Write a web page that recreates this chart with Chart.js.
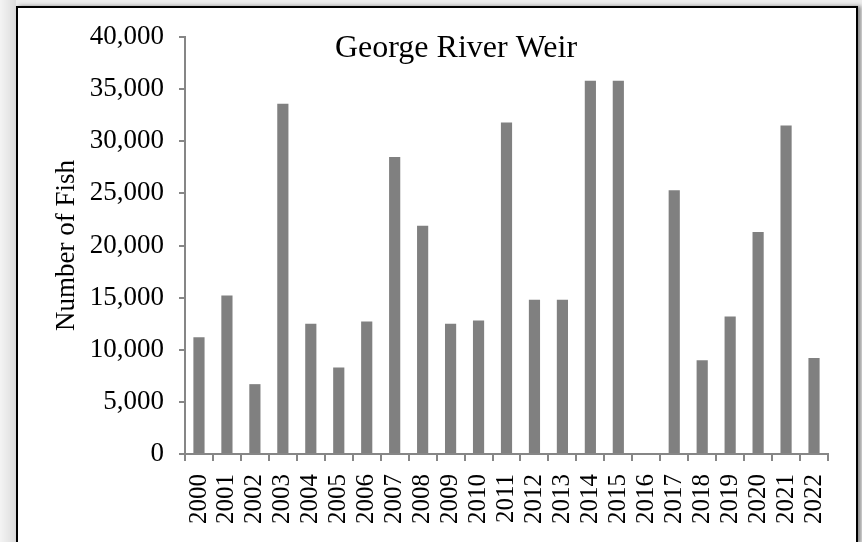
<!DOCTYPE html>
<html>
<head>
<meta charset="utf-8">
<script src="https://cdn.jsdelivr.net/npm/chart.js@4"></script>
<style>
  html, body { margin: 0; padding: 0; }
  body {
    width: 862px; height: 542px; overflow: hidden; position: relative;
    background: linear-gradient(to right, #f4f4f4 0px, #dcdcdc 16px, #ececec 16px);
  }
  #frame {
    position: absolute; left: 16px; top: 6px; width: 838px; height: 534px;
    background: #fff; border: 2px solid #000;
    box-shadow: 3px 0 4px #8a8a8a;
  }
  #wrap { position: absolute; left: 0; top: 0; width: 862px; height: 542px; }
</style>
</head>
<body>
<div id="frame"></div>
<div id="wrap"><canvas id="weirChart" width="862" height="542"></canvas></div>
<script>
const years = ["2000", "2001", "2002", "2003", "2004", "2005", "2006", "2007", "2008", "2009", "2010", "2011",
               "2012", "2013", "2014", "2015", "2016", "2017", "2018", "2019", "2020", "2021", "2022"];
const fishCount = [11200, 15200, 6700, 33600, 12500, 8300, 12700, 28500, 21900, 12500, 12800, 31800,
                   14800, 14800, 35800, 35800, null, 25300, 9000, 13200, 21300, 31500, 9200];
const chartTitle = "George River Weir";
const yTitle = "Number of Fish";

const serif = "'Liberation Serif', 'Times New Roman', serif";
const axisGray = "#868686";

// title sits inside the plot area, so draw it ourselves
const innerTitle = {
    id: "innerTitle",
    afterDraw(chart) {
        const ctx = chart.ctx;
        ctx.save();
        ctx.font = "32px " + serif;
        ctx.fillStyle = "#000";
        ctx.textAlign = "center";
        ctx.textBaseline = "alphabetic";
        ctx.fillText(chartTitle, 456, 57);
        ctx.restore();
    }
};

new Chart("weirChart", {
    type: "bar",
    data: {
        labels: years,
        datasets: [{
            data: fishCount,
            backgroundColor: "#808080",
            borderWidth: 0,
            barPercentage: 0.4,
            categoryPercentage: 1.0
        }]
    },
    options: {
        responsive: false,
        animation: false,
        layout: {padding: {left: 40, top: 37, right: 34, bottom: 0}},
        plugins: {
            legend: {display: false},
            title: {display: false},
            tooltip: {enabled: false}
        },
        scales: {
            x: {
                grid: {display: true, drawOnChartArea: false, drawTicks: true, tickLength: 7, color: axisGray, lineWidth: 2},
                border: {display: true, color: axisGray, width: 2},
                ticks: {
                    color: "#000",
                    font: {family: serif, size: 25},
                    minRotation: 90,
                    maxRotation: 90,
                    autoSkip: false,
                    padding: 13
                },
                afterFit: (scale) => { scale.height = 88; }
            },
            y: {
                min: 0,
                max: 40000,
                grid: {display: true, drawOnChartArea: false, drawTicks: true, tickLength: 6, color: axisGray, lineWidth: 2},
                border: {display: true, color: axisGray, width: 2},
                ticks: {
                    stepSize: 5000,
                    color: "#000",
                    font: {family: serif, size: 27},
                    padding: 15,
                    callback: (v) => v.toLocaleString("en-US")
                },
                title: {
                    display: true,
                    text: yTitle,
                    color: "#000",
                    font: {family: serif, size: 27},
                    padding: {top: 11, bottom: 0}
                },
                afterFit: (scale) => { scale.width = 145; }
            }
        }
    },
    plugins: [innerTitle]
});
</script>
</body>
</html>
